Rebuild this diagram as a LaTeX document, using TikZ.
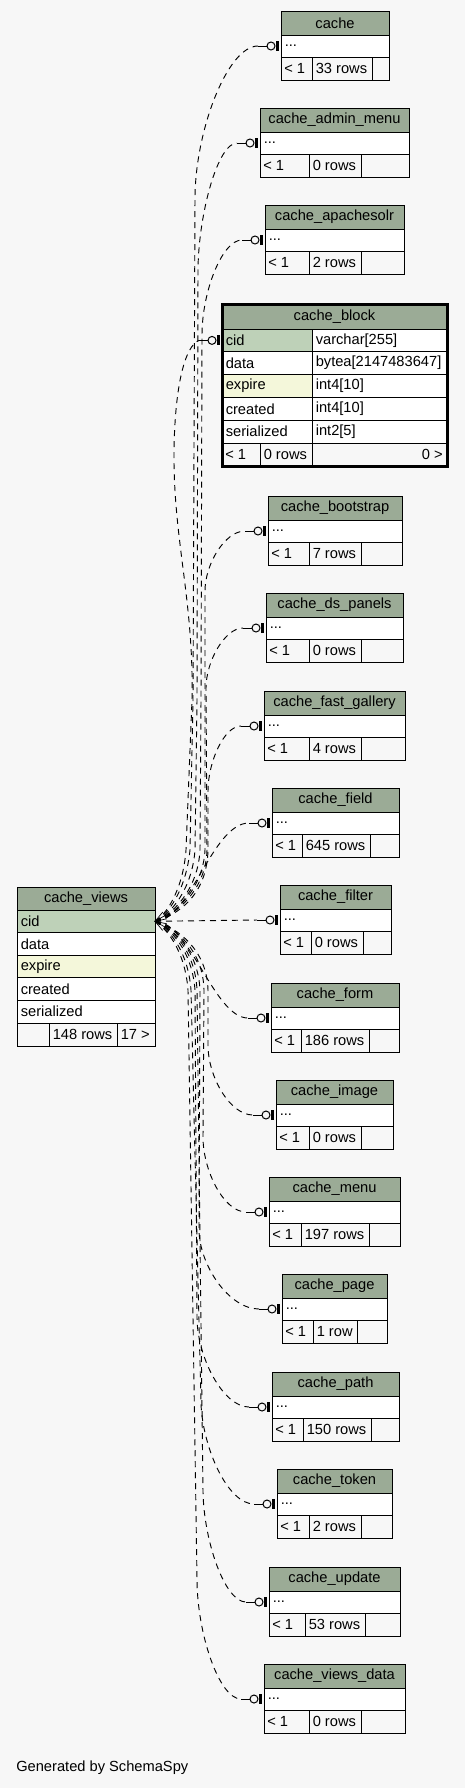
\documentclass[tikz,border=0pt]{standalone}
\usepackage{fontspec}
\setmainfont{Liberation Sans}
\usetikzlibrary{calc}
\definecolor{bgc}{HTML}{F7F7F7}
\definecolor{hdrc}{HTML}{9BAB96}
\definecolor{pkc}{HTML}{BED1B8}
\definecolor{idxc}{HTML}{F4F7DA}
\newcommand{\tabfont}{\fontsize{11}{13}\selectfont}
\tikzset{
  cell/.style={draw=black, line width=0.75pt, inner sep=0pt, outer sep=0pt, anchor=north west, font=\tabfont},
  hdr/.style={cell, fill=hdrc},
  foot/.style={cell, fill=bgc, minimum height=17.25pt},
  txt/.style={inner sep=0pt, anchor=west, font=\tabfont},
  rel/.style={line width=0.7pt, dash pattern=on 4.5pt off 3.75pt},
}
\newcommand{\smalltab}[8]{%
  \pgfmathsetmacro{\tabW}{(#4-#3)*0.75}%
  \pgfmathsetmacro{\tabA}{(#6-#3)*0.75}%
  \pgfmathsetmacro{\tabB}{(#7-#6)*0.75}%
  \pgfmathsetmacro{\tabC}{(#4-#7)*0.75}%
  \node[hdr, minimum width=\tabW pt, minimum height=18pt] (#1h) at (#3,#5) {#2};
  \node[cell, fill=white, minimum width=\tabW pt, minimum height=16.5pt] (#1) at (#3,#5+24) {};
  \node[txt] at ($(#1.west)+(3.5,0)$) {...};
  \node[foot, minimum width=\tabA pt] (#1a) at (#3,#5+46) {};
  \node[foot, minimum width=\tabB pt] (#1b) at (#6,#5+46) {};
  \node[foot, minimum width=\tabC pt] (#1c) at (#7,#5+46) {};
  \node[txt] at ($(#1a.west)+(3,0)$) {< 1};
  \node[txt] at ($(#1b.west)+(3.5,0)$) {#8};
}
\newcommand{\zeroone}[1]{%
  \draw[line width=0.75pt] ($(#1.west)+(-23,0)$) -- ($(#1.west)+(-14,0)$);
  \draw[line width=0.75pt, fill=bgc] ($(#1.west)+(-10,0)$) circle[radius=3pt];
  \fill ($(#1.west)+(-5.5,-5)$) rectangle ($(#1.west)+(-2,5)$);
}
\begin{document}
\begin{tikzpicture}[x=0.75pt, y=-0.75pt]
\fill[bgc] (0,0) rectangle (465,1788);
\useasboundingbox (0,0) rectangle (465,1788);

% ---------- small tables ----------
\smalltab{cache}{cache}{281}{389}{11}{312}{372}{33 rows}
\smalltab{cam}{cache\_admin\_menu}{260}{409}{108}{309}{361}{0 rows}
\smalltab{cap}{cache\_apachesolr}{265}{404}{205}{309}{361}{2 rows}
\smalltab{cbs}{cache\_bootstrap}{268}{402}{496}{309}{361}{7 rows}
\smalltab{cds}{cache\_ds\_panels}{266}{403}{593}{309}{361}{0 rows}
\smalltab{cfg}{cache\_fast\_gallery}{264}{405}{691}{309}{361}{4 rows}
\smalltab{cfd}{cache\_field}{272}{399}{788}{302}{370}{645 rows}
\smalltab{cfl}{cache\_filter}{280}{391}{885}{311}{363}{0 rows}
\smalltab{cfm}{cache\_form}{271}{399}{983}{301}{369}{186 rows}
\smalltab{cim}{cache\_image}{276}{393}{1080}{309}{361}{0 rows}
\smalltab{cmn}{cache\_menu}{269}{400}{1177}{301}{369}{197 rows}
\smalltab{cpg}{cache\_page}{282}{387}{1274}{313}{357}{1 row}
\smalltab{cpt}{cache\_path}{272}{399}{1372}{303}{371}{150 rows}
\smalltab{ctk}{cache\_token}{277}{392}{1469}{309}{361}{2 rows}
\smalltab{cup}{cache\_update}{269}{400}{1567}{305}{365}{53 rows}
\smalltab{cvd}{cache\_views\_data}{264}{405}{1664}{309}{361}{0 rows}

% ---------- cache_block ----------
\node[hdr, minimum width=168.75pt, minimum height=18.75pt] (cbh) at (222,304) {cache\_block};
\node[cell, fill=pkc, minimum width=67.5pt, minimum height=17.1pt] (cbcid) at (222,329) {};
\node[cell, fill=white, minimum width=101.25pt, minimum height=17.1pt] (cbcidt) at (312,329) {};
\node[cell, fill=white, minimum width=67.5pt, minimum height=17.1pt] (cbdata) at (222,351.8) {};
\node[cell, fill=white, minimum width=101.25pt, minimum height=17.1pt] (cbdatat) at (312,351.8) {};
\node[cell, fill=idxc, minimum width=67.5pt, minimum height=17.1pt] (cbexp) at (222,374.6) {};
\node[cell, fill=white, minimum width=101.25pt, minimum height=17.1pt] (cbexpt) at (312,374.6) {};
\node[cell, fill=white, minimum width=67.5pt, minimum height=17.1pt] (cbcre) at (222,397.4) {};
\node[cell, fill=white, minimum width=101.25pt, minimum height=17.1pt] (cbcret) at (312,397.4) {};
\node[cell, fill=white, minimum width=67.5pt, minimum height=17.1pt] (cbser) at (222,420.2) {};
\node[cell, fill=white, minimum width=101.25pt, minimum height=17.1pt] (cbsert) at (312,420.2) {};
\node[foot, minimum width=28.5pt] (cbfa) at (222,443) {};
\node[foot, minimum width=39pt] (cbfb) at (260,443) {};
\node[foot, minimum width=101.25pt] (cbfc) at (312,443) {};
\node[txt] at ($(cbcid.west)+(3.5,0)$) {cid};
\node[txt] at ($(cbcidt.west)+(3.5,0)$) {varchar[255]};
\node[txt] at ($(cbdata.west)+(3.5,0)$) {data};
\node[txt] at ($(cbdatat.west)+(3.5,0)$) {bytea[2147483647]};
\node[txt] at ($(cbexp.west)+(3.5,0)$) {expire};
\node[txt] at ($(cbexpt.west)+(3.5,0)$) {int4[10]};
\node[txt] at ($(cbcre.west)+(3.5,0)$) {created};
\node[txt] at ($(cbcret.west)+(3.5,0)$) {int4[10]};
\node[txt] at ($(cbser.west)+(3.5,0)$) {serialized};
\node[txt] at ($(cbsert.west)+(3.5,0)$) {int2[5]};
\node[txt] at ($(cbfa.west)+(3,0)$) {< 1};
\node[txt] at ($(cbfb.west)+(3.5,0)$) {0 rows};
\node[txt, anchor=east] at ($(cbfc.east)+(-4,0)$) {0 >};
\draw[line width=2.25pt] (222,304) rectangle (447,466);

% ---------- cache_views ----------
\node[hdr, minimum width=103.5pt, minimum height=17.25pt] (cvh) at (17,887) {cache\_views};
\node[cell, fill=pkc, minimum width=103.5pt, minimum height=16.95pt] (cvcid) at (17,910) {};
\node[cell, fill=white, minimum width=103.5pt, minimum height=16.95pt] (cvdata) at (17,932.6) {};
\node[cell, fill=idxc, minimum width=103.5pt, minimum height=16.95pt] (cvexp) at (17,955.2) {};
\node[cell, fill=white, minimum width=103.5pt, minimum height=16.95pt] (cvcre) at (17,977.8) {};
\node[cell, fill=white, minimum width=103.5pt, minimum height=16.95pt] (cvser) at (17,1000.4) {};
\node[foot, minimum width=24pt] (cvfa) at (17,1023) {};
\node[foot, minimum width=51pt] (cvfb) at (49,1023) {};
\node[foot, minimum width=28.5pt] (cvfc) at (117,1023) {};
\node[txt] at ($(cvcid.west)+(3.5,0)$) {cid};
\node[txt] at ($(cvdata.west)+(3.5,0)$) {data};
\node[txt] at ($(cvexp.west)+(3.5,0)$) {expire};
\node[txt] at ($(cvcre.west)+(3.5,0)$) {created};
\node[txt] at ($(cvser.west)+(3.5,0)$) {serialized};
\node[txt] at ($(cvfb.west)+(3.5,0)$) {148 rows};
\node[txt] at ($(cvfc.west)+(3.5,0)$) {17 >};

% ---------- relationships ----------
% upward
\draw[rel] (cvcid.east) .. controls (168,915) and (186,890) .. (190,850) -- (193,700) -- (195,196)
  .. controls (196,128) and (228,46) .. ($(cache.west)+(-23,0)$);
\draw[rel] (cvcid.east) .. controls (170,915) and (192,890) .. (195,850) -- (197,700) -- (198,268)
  .. controls (199,212) and (218,143) .. ($(cam.west)+(-23,0)$);
\draw[rel] (cvcid.east) .. controls (172,915) and (198,890) .. (200,850) -- (201,700) -- (202,335)
  .. controls (202,292) and (222,240) .. ($(cap.west)+(-23,0)$);
\draw[rel] (cvcid.east) .. controls (166,915) and (183,890) .. (186,850) -- (192,700)
  .. controls (194,600) and (173,540) .. (174,450)
  .. controls (175,385) and (185,346) .. ($(cbcid.west)+(-23,0)$);
\draw[rel] (cvcid.east) .. controls (174,915) and (203,890) .. (205,850) -- (205,591)
  .. controls (205,564) and (225,531) .. ($(cbs.west)+(-23,0)$);
\draw[rel] (cvcid.east) .. controls (176,915) and (206,890) .. (207,850) -- (206,688)
  .. controls (206,661) and (225,628) .. ($(cds.west)+(-23,0)$);
\draw[rel] (cvcid.east) .. controls (178,915) and (207,895) .. (208,850) -- (208,791)
  .. controls (208,762) and (224,726) .. ($(cfg.west)+(-23,0)$);
\draw[rel] (cvcid.east) .. controls (190,921.5) and (212,823) .. ($(cfd.west)+(-23,0)$);
% level
\draw[rel] (cvcid.east) -- ($(cfl.west)+(-23,0)$);
% downward
\draw[rel] (cvcid.east) .. controls (190,921.5) and (214,1018) .. ($(cfm.west)+(-23,0)$);
\draw[rel] (cvcid.east) .. controls (178,928) and (207,950) .. (208,990) -- (208,1045)
  .. controls (208,1077) and (230,1115) .. ($(cim.west)+(-23,0)$);
\draw[rel] (cvcid.east) .. controls (176,928) and (203,950) .. (204,990) -- (203,1137)
  .. controls (203,1171) and (224,1212) .. ($(cmn.west)+(-23,0)$);
\draw[rel] (cvcid.east) .. controls (173,928) and (198,950) .. (200,990) -- (199,1229)
  .. controls (199,1265) and (229,1309) .. ($(cpg.west)+(-23,0)$);
\draw[rel] (cvcid.east) .. controls (170,928) and (192,950) .. (195,990) -- (197,1317)
  .. controls (197,1357) and (223,1407) .. ($(cpt.west)+(-23,0)$);
\draw[rel] (cvcid.east) .. controls (168,928) and (188,950) .. (191,990) -- (201,1404)
  .. controls (203,1449) and (228,1504) .. ($(ctk.west)+(-23,0)$);
\draw[rel] (cvcid.east) .. controls (172,928) and (195,950) .. (197,990) -- (203,1492)
  .. controls (204,1542) and (225,1602) .. ($(cup.west)+(-23,0)$);
\draw[rel] (cvcid.east) .. controls (166,928) and (185,950) .. (188,990) -- (197,1579)
  .. controls (197,1633) and (219,1699) .. ($(cvd.west)+(-23,0)$);

% crow's feet at cache_views
\foreach \ang in {-50,-30,-12,12,30,50}
  \draw[line width=0.5pt] (cvcid.east) -- ++(\ang:12);

% end markers
\zeroone{cache}\zeroone{cam}\zeroone{cap}\zeroone{cbcid}
\zeroone{cbs}\zeroone{cds}\zeroone{cfg}\zeroone{cfd}\zeroone{cfl}
\zeroone{cfm}\zeroone{cim}\zeroone{cmn}\zeroone{cpg}\zeroone{cpt}
\zeroone{ctk}\zeroone{cup}\zeroone{cvd}

\node[txt] (gen) at (16,1768) {Generated by SchemaSpy};
\end{tikzpicture}
\end{document}
